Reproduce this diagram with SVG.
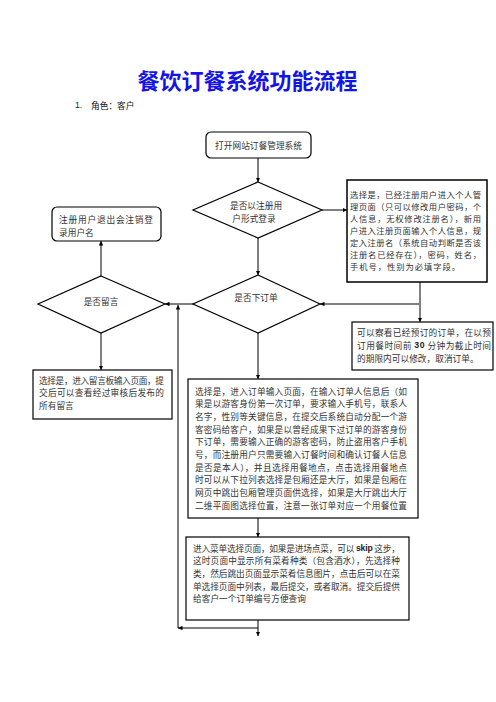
<svg xmlns="http://www.w3.org/2000/svg" width="496" height="702" viewBox="0 0 496 702">
<defs>
<style>
.t{font-family:"Noto Sans CJK SC","Noto Sans",sans-serif;fill:#333;font-size:8.7px;dominant-baseline:central}
.s{font-size:8.3px}
.m{text-anchor:middle}
.box{fill:#fff;stroke:#000;stroke-width:1.2}
.c{fill:none;stroke:#000;stroke-width:1}
.g{fill:none;stroke:#808080;stroke-width:2}
.en{font-family:"Liberation Sans",Arial,sans-serif;font-weight:bold;fill:#222}
</style>
<marker id="a" viewBox="0 0 10 10" refX="10" refY="5" markerWidth="4.5" markerHeight="4.5" orient="auto" markerUnits="userSpaceOnUse"><path d="M0,0 L10,5 L0,10 z" fill="#000"/></marker>
</defs>
<rect width="496" height="702" fill="#fff"/>
<text x="247.5" y="79" class="m" style="font-family:'Noto Sans CJK SC',sans-serif;font-size:22px;font-weight:bold;fill:#1414E6;dominant-baseline:central">餐饮订餐系统功能流程</text>
<text x="75" y="105" class="t" style="fill:#111"><tspan class="en" style="font-weight:normal">1.</tspan><tspan x="91">角色：客户</tspan></text>

<g id="connectors">
<path class="c" d="M258,158 V182" marker-end="url(#a)"/>
<path class="c" d="M322,210 H347" marker-end="url(#a)"/>
<path class="c" d="M258,238 V275" marker-end="url(#a)"/>
<path class="g" d="M420,282 V322" marker-end="url(#a)"/>
<path class="g" d="M420,304 H320" marker-end="url(#a)"/>
<path class="c" d="M193,304 H165" marker-end="url(#a)"/>
<path class="c" d="M101,276 V241" marker-end="url(#a)"/>
<path class="c" d="M101,333 V370" marker-end="url(#a)"/>
<path class="c" d="M258,333 V379" marker-end="url(#a)"/>
<path class="c" d="M258,518 V537" marker-end="url(#a)"/>
<path class="c" d="M258,620 V636" marker-end="url(#a)"/>
<path class="c" d="M258,628 H178" marker-end="url(#a)"/>
<path class="c" d="M178,628 V305" marker-end="url(#a)"/>
</g>

<g id="start">
<rect class="box" x="206" y="132" width="105" height="26" rx="5"/>
<text class="t m" x="258.5" y="145">打开网站订餐管理系统</text>
</g>

<g id="d-login">
<polygon class="box" points="258,182 322,210 258,238 193,210"/>
<text class="t m" x="256" y="205">是否以注册用</text>
<text class="t m" x="254" y="218.5">户形式登录</text>
</g>

<g id="box-register">
<rect class="box" x="347" y="180" width="140" height="102" style="stroke-width:1.5"/>
<text class="t s" x="350" y="193.5" textLength="131" lengthAdjust="spacing">选择是，已经注册用户进入个人管</text>
<text class="t s" x="350" y="205.5" textLength="131" lengthAdjust="spacing">理页面（只可以修改用户密码，个</text>
<text class="t s" x="350" y="217.5" textLength="131" lengthAdjust="spacing">人信息，无权修改注册名），新用</text>
<text class="t s" x="350" y="229.5" textLength="131" lengthAdjust="spacing">户进入注册页面输入个人信息，规</text>
<text class="t s" x="350" y="241.5" textLength="131" lengthAdjust="spacing">定入注册名（系统自动判断是否该</text>
<text class="t s" x="350" y="253.5" textLength="131" lengthAdjust="spacing">注册名已经存在），密码，姓名，</text>
<text class="t s" x="350" y="265.5" textLength="110" lengthAdjust="spacing">手机号，性别为必填字段。</text>
</g>

<g id="box-logout">
<rect class="box" x="52" y="207" width="109" height="34" rx="5"/>
<text class="t" x="59" y="219" textLength="94" lengthAdjust="spacing">注册用户退出会注销登</text>
<text class="t" x="59" y="232">录用户名</text>
</g>

<g id="d-message">
<polygon class="box" points="101,276 165,304 101,333 38,304"/>
<text class="t m" x="101" y="301">是否留言</text>
</g>

<g id="d-order">
<polygon class="box" points="258,275 320,304 258,333 193,304"/>
<text class="t m" x="256" y="297">是否下订单</text>
</g>

<g id="box-view">
<rect class="box" x="352" y="322" width="141" height="48"/>
<text class="t" x="357" y="332" textLength="134" lengthAdjust="spacing">可以察看已经预订的订单，在以预</text>
<text class="t" x="357" y="345" textLength="134" lengthAdjust="spacing">订用餐时间前 <tspan class="en">30</tspan> 分钟为截止时间</text>
<text class="t" x="357" y="358">的期限内可以修改，取消订单。</text>
</g>

<g id="box-message">
<rect class="box" x="33" y="370" width="139" height="49"/>
<text class="t" x="39" y="380" textLength="125" lengthAdjust="spacing">选择是，进入留言板输入页面，提</text>
<text class="t" x="39" y="392.6" textLength="125" lengthAdjust="spacing">交后可以查看经过审核后发布的</text>
<text class="t" x="39" y="405.2">所有留言</text>
</g>

<g id="box-order">
<rect class="box" x="188" y="379" width="230" height="139"/>
<text class="t" x="195" y="391" textLength="212" lengthAdjust="spacing">选择是，进入订单输入页面，在输入订单人信息后（如</text>
<text class="t" x="195" y="403.7" textLength="212" lengthAdjust="spacing">果是以游客身份第一次订单，要求输入手机号，联系人</text>
<text class="t" x="195" y="416.4" textLength="212" lengthAdjust="spacing">名字，性别等关键信息，在提交后系统自动分配一个游</text>
<text class="t" x="195" y="429.1" textLength="212" lengthAdjust="spacing">客密码给客户，如果是以曾经成果下过订单的游客身份</text>
<text class="t" x="195" y="441.8" textLength="212" lengthAdjust="spacing">下订单，需要输入正确的游客密码，防止盗用客户手机</text>
<text class="t" x="195" y="454.5" textLength="212" lengthAdjust="spacing">号，而注册用户只需要输入订餐时间和确认订餐人信息</text>
<text class="t" x="195" y="467.2" textLength="212" lengthAdjust="spacing">是否是本人），并且选择用餐地点，点击选择用餐地点</text>
<text class="t" x="195" y="479.9" textLength="212" lengthAdjust="spacing">时可以从下拉列表选择是包厢还是大厅，如果是包厢在</text>
<text class="t" x="195" y="492.6" textLength="212" lengthAdjust="spacing">网页中跳出包厢管理页面供选择，如果是大厅跳出大厅</text>
<text class="t" x="195" y="505.3" textLength="212" lengthAdjust="spacing">二维平面图选择位置，注意一张订单对应一个用餐位置</text>
</g>

<g id="box-menu">
<rect class="box" x="186" y="537" width="223" height="83"/>
<text class="t" x="193" y="548" textLength="207" lengthAdjust="spacing">进入菜单选择页面，如果是进场点菜，可以 <tspan class="en">skip</tspan> 这步，</text>
<text class="t" x="193" y="560.7" textLength="207" lengthAdjust="spacing">这时页面中显示所有菜肴种类（包含酒水），先选择种</text>
<text class="t" x="193" y="573.4" textLength="207" lengthAdjust="spacing">类，然后跳出页面显示菜肴信息图片，点击后可以在菜</text>
<text class="t" x="193" y="586.1" textLength="207" lengthAdjust="spacing">单选择页面中列表，最后提交，或者取消。提交后提供</text>
<text class="t" x="193" y="598.8">给客户一个订单编号方便查询</text>
</g>
</svg>
